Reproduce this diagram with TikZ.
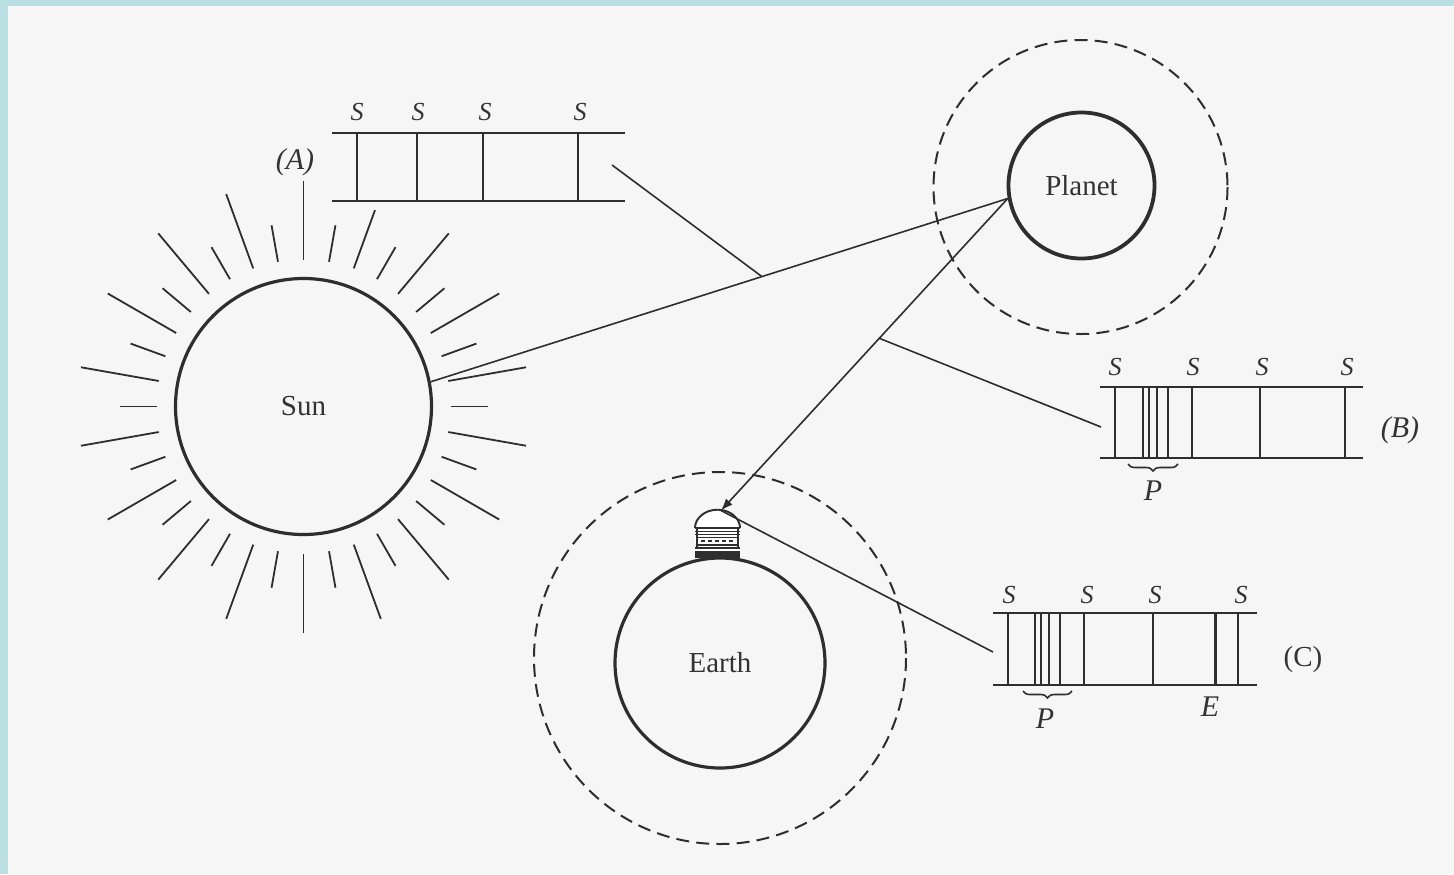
\documentclass[tikz,border=0pt]{standalone}
\usepackage{fontspec}
\setmainfont{Liberation Serif}
\usetikzlibrary{calc,arrows.meta,decorations.pathreplacing}
\definecolor{paperbg}{HTML}{F6F6F6}
\definecolor{framebg}{HTML}{B9DFE3}
\definecolor{ink}{HTML}{2E2E2E}
\definecolor{inktext}{HTML}{333333}
\newcommand\dgName{\fontsize{14.5}{16}\selectfont}
\newcommand\dgLab{\fontsize{13}{15}\selectfont\itshape}
\newcommand\dgBig{\fontsize{15}{17}\selectfont\itshape}
\tikzset{
  body/.style={circle, draw=ink, line width=1.6pt, inner sep=0pt, font=\dgName, text=inktext},
  halo/.style={draw=ink, line width=1pt, dash pattern=on 6.5pt off 3.6pt},
  ray/.style={draw=ink, line width=0.9pt},
  conn/.style={draw=ink, line width=0.8pt},
  rail/.style={draw=ink, line width=1.15pt},
  bar/.style={draw=ink, line width=0.95pt},
  heavybar/.style={draw=ink, line width=1.5pt},
  slab/.style={font=\dgLab, text=inktext, inner sep=0pt},
  tag/.style={font=\dgBig, text=inktext, inner sep=0pt},
  pbrace/.style={draw=ink, line width=0.8pt, decorate,
    decoration={brace, mirror, amplitude=3.5pt}},
}
\begin{document}
\begin{tikzpicture}[x=0.5pt, y=-0.5pt]
  % page and frame
  \fill[paperbg] (0,0) rectangle (1454,874);
  \fill[framebg] (0,0) rectangle (8,874);
  \fill[framebg] (0,0) rectangle (1454,6);
  \useasboundingbox (0,0) rectangle (1454,874);

  % bodies
  \node[body, minimum size=128pt] (sun) at (303.5,406.5) {Sun};
  \node[body, line width=1.9pt, minimum size=73pt] (planet) at (1081.5,185.5) {Planet};
  \node[body, minimum size=105pt] (earth) at (720,663) {Earth};

  % atmospheres
  \draw[halo] (1080.5,187) circle (147);
  \draw[halo] (720,658) circle (186);

  % sun rays: long and short, alternating every 10 degrees
  % (the y axis points down, so polar angles run clockwise here)
  \foreach \a in {0,20,...,340}
    \draw[ray] ($(sun)+(\a:147)$) -- ($(sun)+(\a:184)$);
  \foreach \a in {10,30,50,70,90,110,130,150,170,190,210,230,250,270,310,330,350}
    \draw[ray] ($(sun)+(\a:147)$) -- ($(sun)+(\a:226)$);
  % the ray just below spectrum A is a little shorter
  \draw[ray] ($(sun)+(290:147)$) -- ($(sun)+(290:209)$);

  % observatory on the Earth
  \fill[white] (695,528) arc[start angle=180, end angle=360, x radius=22.5, y radius=18.3] -- cycle;
  \draw[bar] (695,528) arc[start angle=180, end angle=360, x radius=22.5, y radius=18.3];
  \fill[white] (695,528) rectangle (740,557);
  \draw[bar] (695,528) -- (740,528);
  \draw[bar] (695,531.5) -- (740,531.5);
  \draw[bar] (695,534.5) -- (740,534.5);
  \draw[bar] (697,528) -- (697,548) (738,528) -- (738,548);
  \draw[line width=0.6pt, draw=ink] (697,537.5) rectangle (738,545);
  \foreach \x in {701,708,715,722,729}
    \draw[line width=0.6pt, draw=ink] (\x,541) -- (\x+4,541);
  \draw[bar] (695,548) -- (740,548);
  \fill[ink] (695,551) rectangle (740,557.5);
  \coordinate (dome) at (721,510.5);

  % spectrum A
  \draw[rail] (332,133) -- (625,133) (332,201) -- (625,201);
  \foreach \x in {357,417,483,578} \draw[bar] (\x,133) -- (\x,201);
  \foreach \x in {357,418,485,580} \node[slab] at (\x,112) {S};
  \node[tag] (labA) at (295,162) {(A)};
  \coordinate (aout) at (612,165);

  % spectrum B
  \draw[rail] (1100,387) -- (1363,387) (1100,458) -- (1363,458);
  \foreach \x in {1115,1192,1260,1345} \draw[bar] (\x,387) -- (\x,458);
  \foreach \x in {1143,1149,1157,1168} \draw[bar] (\x,387) -- (\x,458);
  \foreach \x in {1115,1193,1262,1347} \node[slab] at (\x,367) {S};
  \draw[pbrace] (1128,464) -- (1178,464);
  \node[tag] (pB) at (1153,491) {P};
  \node[tag] (labB) at (1400,430) {(B)};
  \coordinate (bin) at (1101,427);

  % spectrum C
  \draw[rail] (993,613) -- (1257,613) (993,685) -- (1257,685);
  \foreach \x in {1008,1084,1153,1238} \draw[bar] (\x,613) -- (\x,685);
  \foreach \x in {1035,1041,1049,1060} \draw[bar] (\x,613) -- (\x,685);
  \draw[heavybar] (1215,613) -- (1215,685);
  \foreach \x in {1009,1087,1155,1241} \node[slab] at (\x,595) {S};
  \draw[pbrace] (1023,691) -- (1072,691);
  \node[tag] (pC) at (1045,719) {P};
  \node[tag] (eC) at (1210,707) {E};
  \node[font=\dgName, text=inktext, inner sep=0pt] (labC) at (1303,660) {(C)};
  \coordinate (cin) at (993,652);

  % light paths
  \draw[conn] (sun.11) -- (planet.190);
  \draw[conn, -{Latex[length=6pt, width=4.5pt]}] (planet.190) -- (dome);
  \coordinate (j1) at ($(sun.11)!0.574!(planet.190)$);
  \coordinate (j2) at ($(planet.190)!0.448!(dome)$);
  \draw[conn] (aout) -- (j1);
  \draw[conn] (j2) -- (bin);
  \draw[conn] (dome) -- (cin);
\end{tikzpicture}
\end{document}
